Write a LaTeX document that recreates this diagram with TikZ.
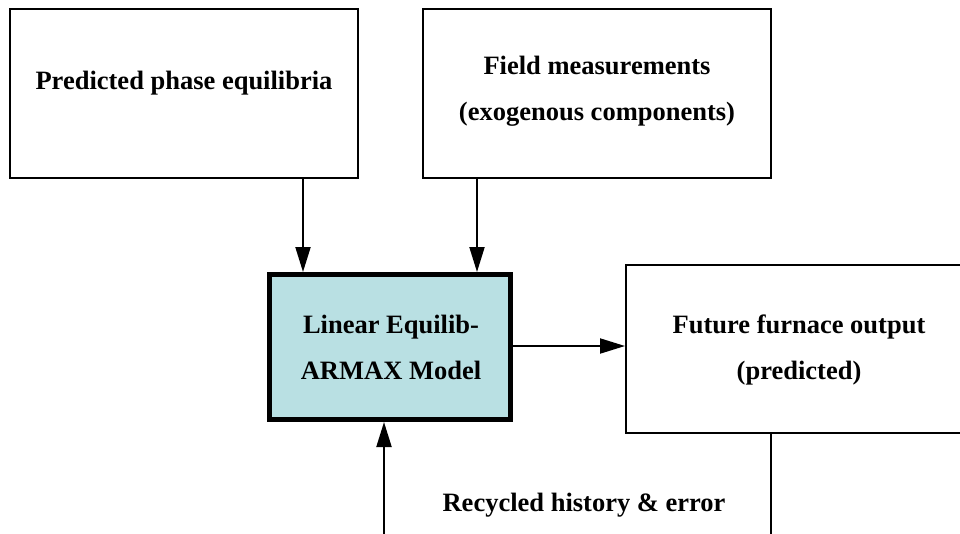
\documentclass[tikz,border=0pt]{standalone}
\usepackage{fontspec}
\setmainfont{Liberation Serif}
\usetikzlibrary{arrows.meta}
\definecolor{modelfill}{RGB}{185,224,227}
\tikzset{
  box/.style={draw=black, line width=2pt, fill=white, inner sep=0pt},
  modelbox/.style={draw=black, line width=5pt, fill=modelfill, inner sep=0pt},
  lbl/.style={font=\fontsize{26.5}{46}\selectfont\bfseries, align=center, inner sep=0pt},
  conn/.style={line width=2pt, -{Triangle[length=25pt,width=15pt]}},
  plain/.style={line width=2pt}
}
\begin{document}
\begin{tikzpicture}[x=1pt,y=-1pt]
\useasboundingbox (0,0) rectangle (960,533);
\clip (0,0) rectangle (960,533);
% boxes
\node[box, minimum width=348pt, minimum height=169pt] (pe) at (184,93.5) {};
\node[lbl] (pet) at (184,83) {Predicted phase equilibria};
\node[box, minimum width=348pt, minimum height=169pt] (fm) at (597,93.5) {};
\node[lbl] (fmt) at (597,91) {Field measurements\\(exogenous components)};
\node[modelbox, minimum width=241pt, minimum height=145pt] (model) at (390,347) {};
\node[lbl] (modelt) at (391,347) {Linear Equilib-\\ARMAX Model};
\node[box, minimum width=346pt, minimum height=168pt] (fut) at (799,349) {};
\node[lbl] (futt) at (799,350) {Future furnace output\\(predicted)};
\node[lbl] (rec) at (584,505) {Recycled history \& error};
% coordinates
\coordinate (b1) at (771,540);
\coordinate (b2) at (384,540);
% connectors
\draw[conn] (pe.south -| 303,0) -- (model.north -| 303,0);
\draw[conn] (fm.south -| 477,0) -- (model.north -| 477,0);
\draw[conn] (model.east |- 0,346) -- (fut.west |- 0,346);
\draw[plain] (fut.south -| b1) -- (b1);
\draw[conn] (b2) -- (model.south -| b2);
\end{tikzpicture}
\end{document}
